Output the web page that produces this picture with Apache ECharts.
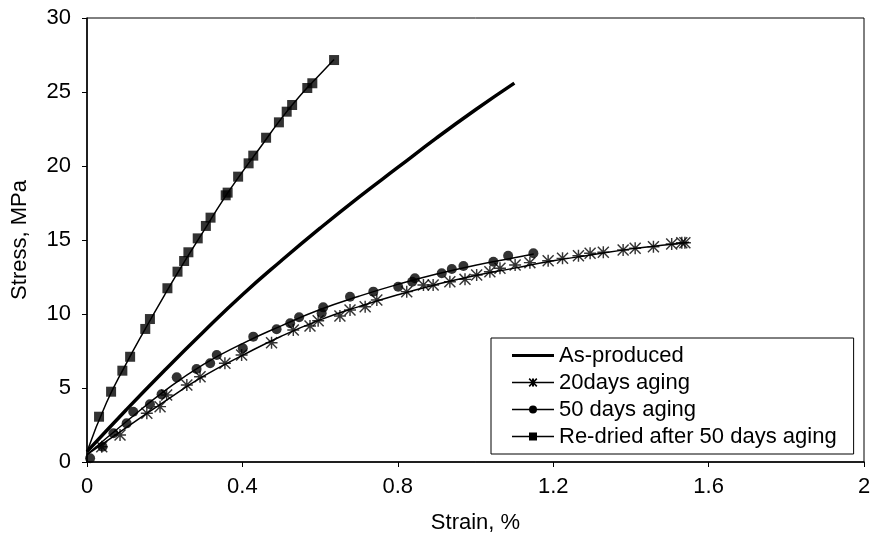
<!DOCTYPE html>
<html>
<head>
<meta charset="utf-8">
<script src="https://cdn.jsdelivr.net/npm/echarts@6/dist/echarts.min.js"></script>
<style>html,body{margin:0;padding:0;background:#fff;}#c{width:875px;height:545px;}</style>
</head>
<body>
<div id="c"></div>
<script>
const xTicks = [0, 0.4, 0.8, 1.2, 1.6, 2];
const yTicks = [0, 5, 10, 15, 20, 25, 30];
const seriesNames = ['As-produced', '20days aging', '50 days aging', 'Re-dried after 50 days aging'];

// As-produced curve (no markers)
const asProduced = [[0,0.7],[0.1,3.5],[0.2,6.2],[0.3,8.8],[0.4,11.3],[0.5,13.6],[0.6,15.8],[0.7,17.9],[0.8,19.9],[0.9,21.9],[1.0,23.8],[1.1,25.6]];

// 20 days aging: measured points and trend curve
const aged20Points = [[0.038,1.03],[0.085,1.82],[0.154,3.29],[0.188,3.74],[0.205,4.53],[0.257,5.2],[0.291,5.76],[0.355,6.67],[0.398,7.23],[0.475,8.06],[0.531,8.92],[0.574,9.19],[0.595,9.55],[0.651,9.86],[0.677,10.27],[0.716,10.49],[0.746,10.95],[0.823,11.51],[0.866,11.96],[0.891,11.96],[0.934,12.18],[0.973,12.34],[1.003,12.64],[1.037,12.86],[1.063,13.09],[1.102,13.31],[1.14,13.47],[1.187,13.6],[1.224,13.76],[1.265,13.94],[1.295,14.1],[1.329,14.17],[1.38,14.32],[1.411,14.44],[1.458,14.55],[1.505,14.73],[1.531,14.82],[1.539,14.82]];
const aged20Curve = [[0,0.5],[0.1,2.3],[0.2,4.1],[0.3,5.8],[0.4,7.2],[0.5,8.5],[0.6,9.6],[0.7,10.5],[0.8,11.3],[0.9,12.0],[1.0,12.6],[1.1,13.1],[1.2,13.6],[1.3,14.0],[1.4,14.4],[1.5,14.7],[1.55,14.85]];

// 50 days aging
const aged50Points = [[0.008,0.25],[0.04,1.03],[0.068,1.94],[0.102,2.61],[0.119,3.4],[0.162,3.9],[0.192,4.57],[0.231,5.72],[0.282,6.28],[0.317,6.67],[0.334,7.23],[0.401,7.68],[0.428,8.47],[0.488,8.97],[0.523,9.37],[0.546,9.78],[0.604,10.05],[0.608,10.45],[0.677,11.17],[0.737,11.51],[0.801,11.84],[0.837,12.18],[0.844,12.41],[0.913,12.75],[0.939,13.04],[0.969,13.24],[1.046,13.53],[1.084,13.94],[1.149,14.1]];
const aged50Curve = [[0,0.5],[0.1,2.7],[0.2,4.8],[0.3,6.6],[0.4,8.0],[0.5,9.2],[0.6,10.3],[0.7,11.2],[0.8,12.0],[0.9,12.7],[1.0,13.3],[1.1,13.8],[1.15,14.05]];

// Re-dried after 50 days aging
const redriedPoints = [[0.031,3.06],[0.062,4.75],[0.091,6.17],[0.111,7.11],[0.15,8.99],[0.162,9.66],[0.207,11.74],[0.233,12.86],[0.25,13.58],[0.261,14.17],[0.285,15.11],[0.306,15.95],[0.318,16.51],[0.357,18.02],[0.362,18.2],[0.389,19.28],[0.416,20.18],[0.428,20.7],[0.461,21.91],[0.494,22.95],[0.514,23.67],[0.528,24.12],[0.567,25.27],[0.58,25.59],[0.636,27.16]];
const redriedCurve = [[0,0.7],[0.05,4.0],[0.1,6.6],[0.15,9.0],[0.2,11.3],[0.25,13.5],[0.3,15.6],[0.35,17.7],[0.4,19.6],[0.45,21.4],[0.5,23.2],[0.55,24.8],[0.6,26.2],[0.636,27.2]];

const FONT = 'Liberation Sans, Arial, sans-serif';
const asteriskPath = 'path://M8.8 0 L11.2 0 L11.2 20 L8.8 20 Z M0 1.7 L1.7 0 L20 18.3 L18.3 20 Z M18.3 0 L20 1.7 L1.7 20 L0 18.3 Z M0 8.8 L20 8.8 L20 11.2 L0 11.2 Z';
const corners = ' M0 0 L0.02 0 L0 0.02 Z M42 10 L41.98 10 L42 9.98 Z';
const iconAs = 'path://M0 3.5 L42 3.5 L42 6.5 L0 6.5 Z' + corners;
const thinLine = 'M0 4.3 L42 4.3 L42 5.7 L0 5.7 Z';
const icon20 = 'path://' + thinLine + ' M20 1 L22 1 L22 9 L20 9 Z M16.6 1.7 L17.7 0.6 L25.4 8.3 L24.3 9.4 Z M24.3 0.6 L25.4 1.7 L17.7 9.4 L16.6 8.3 Z' + corners;
const icon50 = 'path://' + thinLine + ' M17 5 A4 4 0 1 1 25 5 A4 4 0 1 1 17 5 Z' + corners;
const iconRe = 'path://' + thinLine + ' M17 1 L25 1 L25 9 L17 9 Z' + corners;

const chart = echarts.init(document.getElementById('c'));
const lineBase = (name, data, width) => ({
  name: name, type: 'line', data: data, smooth: true, symbol: 'none',
  lineStyle: { color: '#000', width: width }, itemStyle: { color: '#000' }, z: 2, silent: true
});
const scatterBase = (name, data, symbol, size) => ({
  name: name, type: 'scatter', data: data, symbol: symbol, symbolSize: size,
  itemStyle: { color: '#000', borderWidth: 0 }, z: 3, silent: true
});

chart.setOption({
  animation: false,
  backgroundColor: '#fff',
  grid: { left: 87, right: 11, top: 18, bottom: 83, show: true, borderColor: '#000', borderWidth: 1, backgroundColor: 'transparent' },
  xAxis: {
    type: 'value', min: xTicks[0], max: xTicks[xTicks.length - 1], interval: xTicks[1] - xTicks[0],
    name: 'Strain, %', nameLocation: 'middle', nameGap: 50,
    nameTextStyle: { fontFamily: FONT, fontSize: 22, color: '#000' },
    axisLine: { lineStyle: { color: '#000', width: 1.5 } },
    axisTick: { show: true, inside: false, length: 5, lineStyle: { color: '#000', width: 1 } },
    axisLabel: { fontFamily: FONT, fontSize: 22, color: '#000', margin: 14,
      formatter: v => String(parseFloat(v.toFixed(1))) },
    splitLine: { show: false }
  },
  yAxis: {
    type: 'value', min: yTicks[0], max: yTicks[yTicks.length - 1], interval: yTicks[1] - yTicks[0],
    name: 'Stress, MPa', nameLocation: 'middle', nameGap: 56,
    nameTextStyle: { fontFamily: FONT, fontSize: 22, color: '#000' },
    axisLine: { show: true, lineStyle: { color: '#000', width: 1.5 } },
    axisTick: { show: true, inside: false, length: 5, lineStyle: { color: '#000', width: 1 } },
    axisLabel: { fontFamily: FONT, fontSize: 22, color: '#000', margin: 16 },
    splitLine: { show: false }
  },
  legend: {
    orient: 'vertical', left: 491, top: 338,
    padding: [4, 17, 4, 21], itemGap: 0,
    itemWidth: 42, itemHeight: 10,
    backgroundColor: '#fff', borderColor: '#000', borderWidth: 1,
    itemStyle: { borderWidth: 0, color: '#000' },
    textStyle: { fontFamily: FONT, fontSize: 22, color: '#000', lineHeight: 27 },
    selectedMode: false,
    data: [
      { name: seriesNames[0], icon: iconAs },
      { name: seriesNames[1], icon: icon20 },
      { name: seriesNames[2], icon: icon50 },
      { name: seriesNames[3], icon: iconRe }
    ]
  },
  series: [
    lineBase(seriesNames[0], asProduced, 3.5),
    lineBase(seriesNames[1], aged20Curve, 1.5),
    scatterBase(seriesNames[1], aged20Points, asteriskPath, 12),
    lineBase(seriesNames[2], aged50Curve, 1.5),
    scatterBase(seriesNames[2], aged50Points, 'circle', 10),
    lineBase(seriesNames[3], redriedCurve, 1.5),
    scatterBase(seriesNames[3], redriedPoints, 'rect', 10)
  ]
});
</script>
</body>
</html>
